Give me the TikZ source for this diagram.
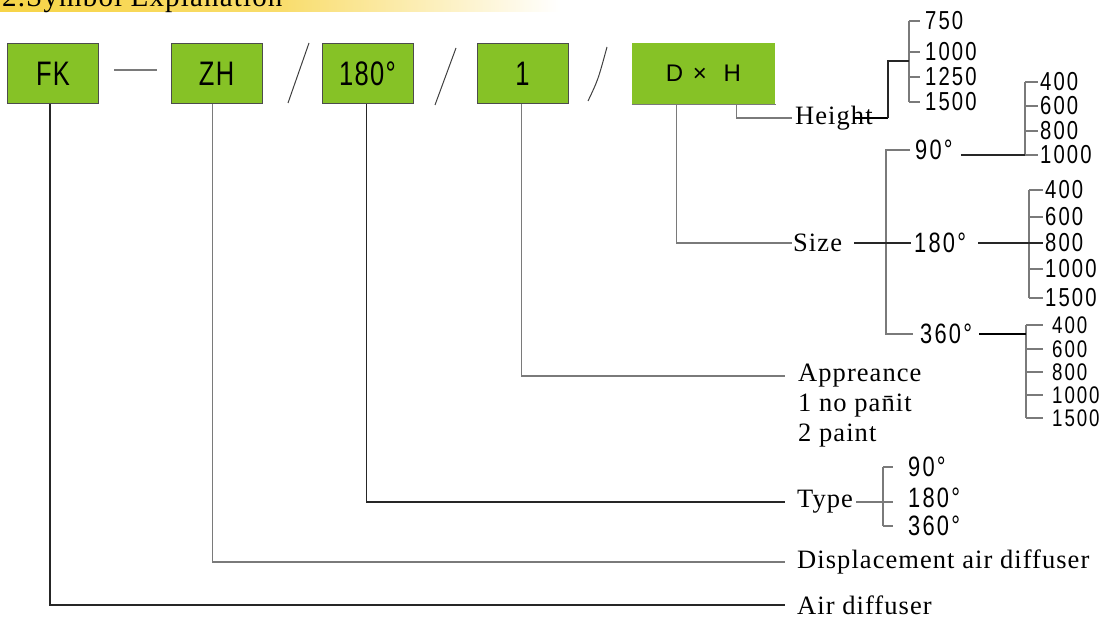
\documentclass[tikz,border=0pt]{standalone}
\usepackage{fontspec}
\setmainfont[LetterSpace=4]{Liberation Serif}
\newfontfamily\numfont[FakeStretch=0.78,LetterSpace=8]{Liberation Sans}
\newfontfamily\codefont[FakeStretch=0.75,LetterSpace=4]{Liberation Sans}
\newfontfamily\plainsans{Liberation Sans}
\usetikzlibrary{positioning}

\definecolor{boxgreen}{HTML}{86C226}
\definecolor{linegray}{HTML}{7A7A7A}
\definecolor{bandgold}{HTML}{F7D447}

\tikzset{
  codebox/.style={draw=black!70, line width=1pt, fill=boxgreen,
    minimum width=91pt, minimum height=60pt, inner sep=0pt,
    font=\codefont\fontsize{34}{34}\selectfont},
  desc/.style={anchor=west, inner sep=0pt, font=\fontsize{26.5}{26.5}\selectfont},
  num/.style={anchor=west, inner sep=0pt, font=\numfont\fontsize{26}{26}\selectfont},
  smallnum/.style={num, font=\numfont\fontsize{24}{24}\selectfont},
  bignum/.style={num, font=\numfont\fontsize{28}{28}\selectfont},
  conn/.style={draw=linegray, line width=1.3pt},
  darkconn/.style={draw=black!85, line width=1.3pt},
  boldconn/.style={draw=black, line width=2.4pt},
  sep/.style={draw=black!75, line width=1pt}
}

\begin{document}
\begin{tikzpicture}[x=1pt,y=-1pt]
    \useasboundingbox (0,0) rectangle (1109,618);
    \clip (0,0) rectangle (1109,618);

    % Title band
    \shade[left color=bandgold, right color=white, middle color=bandgold!80] (0,0) rectangle (560,12);
    \node[anchor=base west, inner sep=0pt, font=\fontsize{29}{29}\selectfont] (title) at (2,7) {2.Symbol Explanation};

    % Code boxes
    \node[codebox] (fk) at (53,73.5) {FK};
    \node[codebox] (zh) at (216.5,73.5) {ZH};
    \node[codebox] (ang) at (367.5,73.5) {180°};
    \node[codebox] (app) at (522.5,73.5) {1};
    \node[codebox, draw=none, minimum width=143pt, minimum height=61pt,
          font=\plainsans\fontsize{24}{24}\selectfont] (dxh) at (703.5,73.5) {D\hspace{0.4em}×\hspace{0.7em}H};
    \draw[linegray, line width=1pt] (dxh.south west) -- (dxh.south east);

    % Separators
    \draw[conn, line width=1.5pt] ([xshift=15]fk.east |- 0,70) -- ([xshift=-14]zh.west |- 0,70);
    \draw[sep] (288,103) -- (309,43);
    \draw[sep] (435,105) -- (456,48);
    \draw[sep] (588,101) .. controls (598,80) .. (607,47);

    % Descriptions
    \node[desc] (height) at (795,118) {Height};
    \node[desc] (size) at (793,243) {Size};
    \node[desc] (appr) at (798,376) {Appreance};
    \node[desc] (panit) at (798,406) {1 no pa\=nit};
    \node[desc] (paint) at (798,436) {2 paint};
    \node[desc] (type) at (797,502) {Type};
    \node[desc] (disp) at (797,562) {Displacement air diffuser};
    \node[desc] (air) at (797,605) {Air diffuser};

    % Leaders from the boxes
    \draw[darkconn] ([xshift=-3]fk.south) |- ([xshift=-12]air.west);
    \draw[conn] ([xshift=-4]zh.south) |- ([xshift=-12]disp.west);
    \draw[darkconn] ([xshift=-1]ang.south) |- ([xshift=-12]type.west);
    \draw[conn] ([xshift=-1]app.south) |- ([xshift=-13]appr.west);
    \draw[conn] ([xshift=-27]dxh.south) |- ([xshift=-1]size.west);
    \draw[conn] ([xshift=33]dxh.south) |- ([xshift=-3]height.west);

    % Height values
    \foreach \v/\y [count=\i] in {750/21, 1000/52, 1250/77, 1500/102}
        \node[num] (hgt\i) at (925,\y) {\v};
    \draw[conn] ([xshift=-16]hgt1.west) -- ([xshift=-16]hgt4.west);
    \foreach \i in {1,...,4}
        \draw[conn] ([xshift=-16]hgt\i.west) -- ([xshift=-5]hgt\i.west);
    \coordinate (hjog) at (888,61);
    \draw[boldconn] ([xshift=-20]height.east) -- (hjog |- height.east);
    \draw[darkconn] (hjog |- height.east) -- (hjog) -- ([xshift=-16]hgt1.west |- hjog);

    % Size angles
    \node[bignum] (s90) at (915,150) {90°};
    \node[bignum] (s180) at (914,243) {180°};
    \node[bignum] (s360) at (920,334) {360°};
    \draw[conn] ([xshift=-5]s90.west) -| ([xshift=-29]s90.west |- s360.west) -- ([xshift=-7]s360.west);
    \draw[darkconn] ([xshift=12]size.east) -- ([xshift=-3]s180.west);

    % 90 values
    \foreach \v/\y [count=\i] in {400/82, 600/106, 800/131, 1000/155}
        \node[num] (nin\i) at (1040,\y) {\v};
    \draw[conn] ([xshift=-15]nin1.west) -- ([xshift=-15]nin4.west);
    \foreach \i in {1,...,4}
        \draw[conn] ([xshift=-15]nin\i.west) -- ([xshift=-2]nin\i.west);
    \draw[darkconn] ([xshift=8]s90.east |- nin4.west) -- ([xshift=-15]nin4.west);

    % 180 values
    \foreach \v/\y [count=\i] in {400/190, 600/217, 800/243, 1000/269, 1500/298}
        \node[num] (oct\i) at (1045,\y) {\v};
    \draw[conn] ([xshift=-16]oct1.west) -- ([xshift=-16]oct5.west);
    \foreach \i in {1,...,5}
        \draw[conn] ([xshift=-16]oct\i.west) -- ([xshift=-2]oct\i.west);
    \draw[darkconn] ([xshift=12]s180.east) -- ([xshift=-2]oct3.west);

    % 360 values
    \foreach \v/\y [count=\i] in {400/325, 600/349, 800/372, 1000/395, 1500/418}
        \node[smallnum] (tre\i) at (1052,\y) {\v};
    \draw[conn] ([xshift=-26]tre1.west) -- ([xshift=-26]tre5.west);
    \foreach \i in {1,...,5}
        \draw[conn] ([xshift=-26]tre\i.west) -- ([xshift=-9]tre\i.west);
    \draw[boldconn] ([xshift=7]s360.east) -- ([xshift=-26]tre1.west |- s360.east);

    % Type values
    \foreach \v/\y [count=\i] in {90°/467, 180°/498, 360°/526}
        \node[bignum] (typ\i) at (908,\y) {\v};
    \draw[conn] ([xshift=-25]typ1.west) -- ([xshift=-25]typ3.west);
    \draw[conn] ([xshift=-25]typ1.west) -- ([xshift=-15]typ1.west);
    \draw[conn] ([xshift=-25]typ3.west) -- ([xshift=-15]typ3.west);
    \draw[conn] ([xshift=3]type.east) -- ([xshift=-15]typ2.west |- type.east);
\end{tikzpicture}
\end{document}
